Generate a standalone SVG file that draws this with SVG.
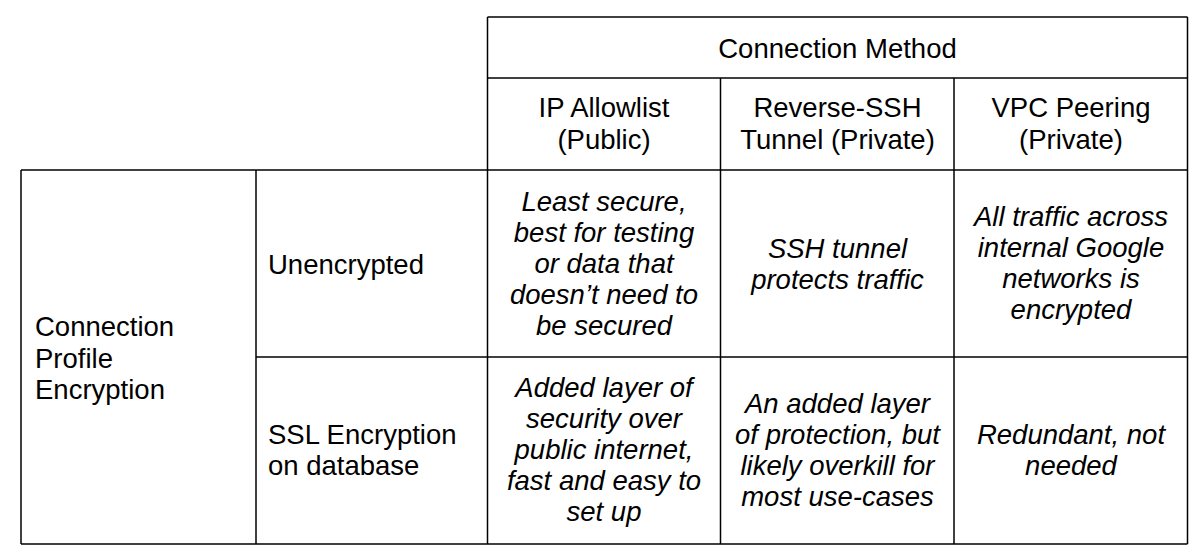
<svg xmlns="http://www.w3.org/2000/svg" width="1200" height="559" viewBox="0 0 1200 559">
<style>
.grid line{stroke:#000;stroke-width:1.5}
text{font-family:"Liberation Sans",Arial,sans-serif;font-size:27.5px;fill:#000}
.c{text-anchor:middle}
.i{font-style:italic}
</style>
<rect width="1200" height="559" fill="#fff"/>
<g id="grid" class="grid">
<line x1="487.5" y1="17" x2="1187.5" y2="17"/>
<line x1="487.5" y1="78" x2="1187.5" y2="78"/>
<line x1="21" y1="170" x2="1187.5" y2="170"/>
<line x1="256" y1="357" x2="1187.5" y2="357"/>
<line x1="21" y1="544" x2="1187.5" y2="544"/>
<line x1="21" y1="170" x2="21" y2="544"/>
<line x1="256" y1="170" x2="256" y2="544"/>
<line x1="487.5" y1="17" x2="487.5" y2="544"/>
<line x1="720.5" y1="78" x2="720.5" y2="544"/>
<line x1="954" y1="78" x2="954" y2="544"/>
<line x1="1187.5" y1="17" x2="1187.5" y2="544"/>
</g>
<g id="header-method"><text class="c" x="837.5" y="58">Connection Method</text></g>
<g id="header-ip"><text class="c" x="604" y="117">IP Allowlist</text><text class="c" x="604" y="149">(Public)</text></g>
<g id="header-ssh"><text class="c" x="837.5" y="117">Reverse-SSH</text><text class="c" x="837.5" y="149">Tunnel (Private)</text></g>
<g id="header-vpc"><text class="c" x="1071" y="117">VPC Peering</text><text class="c" x="1071" y="149">(Private)</text></g>
<g id="row-header"><text x="35" y="336">Connection</text><text x="35" y="367.5">Profile</text><text x="35" y="399">Encryption</text></g>
<g id="row-unencrypted"><text x="268" y="274">Unencrypted</text></g>
<g id="row-ssl"><text x="268" y="444">SSL Encryption</text><text x="268" y="475">on database</text></g>
<g id="cell-u-ip">
<text class="c i" x="604" y="211">Least secure,</text>
<text class="c i" x="604" y="242">best for testing</text>
<text class="c i" x="604" y="273">or data that</text>
<text class="c i" x="604" y="304">doesn’t need to</text>
<text class="c i" x="604" y="335">be secured</text>
</g>
<g id="cell-u-ssh">
<text class="c i" x="837.5" y="258">SSH tunnel</text>
<text class="c i" x="837.5" y="289">protects traffic</text>
</g>
<g id="cell-u-vpc">
<text class="c i" x="1071" y="226">All traffic across</text>
<text class="c i" x="1071" y="257">internal Google</text>
<text class="c i" x="1071" y="288">networks is</text>
<text class="c i" x="1071" y="319">encrypted</text>
</g>
<g id="cell-s-ip">
<text class="c i" x="604" y="397">Added layer of</text>
<text class="c i" x="604" y="428">security over</text>
<text class="c i" x="604" y="459">public internet,</text>
<text class="c i" x="604" y="490">fast and easy to</text>
<text class="c i" x="604" y="521">set up</text>
</g>
<g id="cell-s-ssh">
<text class="c i" x="837.5" y="413">An added layer</text>
<text class="c i" x="837.5" y="444">of protection, but</text>
<text class="c i" x="837.5" y="475">likely overkill for</text>
<text class="c i" x="837.5" y="506">most use-cases</text>
</g>
<g id="cell-s-vpc">
<text class="c i" x="1071" y="444">Redundant, not</text>
<text class="c i" x="1071" y="475">needed</text>
</g>
</svg>
